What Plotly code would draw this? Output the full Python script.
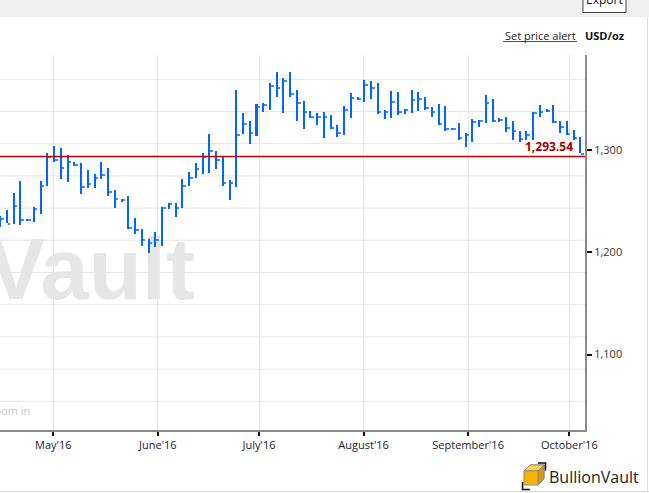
import plotly.graph_objects as go
import pandas as pd

# ---------------- data ----------------
start_date = "2016-04-15 06:00"   # first 2-day bar
bar_step = "2D"

high = [1235.8, 1241.3, 1258.0, 1269.7, 1232.8, 1244.3, 1269.7, 1297.1, 1303.9, 1302.0,
        1295.1, 1288.3, 1287.3, 1280.7, 1276.8, 1288.3, 1282.4, 1260.9, 1252.4, 1255.0,
        1233.5, 1222.8, 1213.0, 1219.8, 1244.6, 1248.2, 1248.2, 1271.7, 1278.5, 1287.3,
        1297.1, 1315.6, 1299.0, 1293.5, 1270.7, 1358.7, 1336.2, 1328.3, 1345.0, 1345.9,
        1365.5, 1376.2, 1370.4, 1376.2, 1358.7, 1347.9, 1338.1, 1336.2, 1337.1, 1334.2,
        1324.4, 1343.0, 1355.7, 1351.8, 1368.4, 1367.4, 1365.5, 1338.8, 1357.7, 1356.7,
        1340.1, 1358.7, 1356.7, 1351.8, 1342.0, 1345.0, 1343.0, 1321.8, 1326.4, 1316.6,
        1330.0, 1329.3, 1354.1, 1349.9, 1331.0, 1332.6, 1328.3, 1318.9, 1318.9, 1337.4,
        1344.3, 1339.8, 1344.0, 1328.3, 1328.3, 1319.6, 1313.0]

low = [1225.0, 1228.3, 1228.0, 1227.0, 1230.9, 1229.9, 1237.7, 1265.1, 1288.6, 1271.9,
       1269.0, 1284.7, 1257.3, 1263.1, 1263.1, 1271.9, 1255.3, 1243.6, 1249.5, 1223.1,
       1217.6, 1206.5, 1199.6, 1205.5, 1206.5, 1242.6, 1234.8, 1243.6, 1264.8, 1272.6,
       1276.5, 1277.8, 1281.7, 1265.1, 1251.1, 1264.1, 1315.9, 1306.2, 1314.0, 1337.4,
       1339.1, 1352.1, 1336.5, 1352.1, 1328.3, 1320.8, 1331.6, 1324.7, 1312.0, 1320.8,
       1313.0, 1315.0, 1331.6, 1349.2, 1347.2, 1350.1, 1335.5, 1330.6, 1331.6, 1334.5,
       1335.5, 1336.5, 1338.4, 1339.4, 1332.6, 1324.7, 1318.9, 1319.8, 1310.1, 1303.2,
       1308.1, 1322.8, 1326.1, 1327.7, 1327.7, 1317.3, 1309.8, 1307.5, 1309.8, 1309.8,
       1332.6, 1337.4, 1326.1, 1316.9, 1314.4, 1309.8, 1296.6]

close = [1233.2, 1228.3, 1245.3, 1231.3, 1231.9, 1242.3, 1265.5, 1292.9, 1290.2, 1282.4,
         1288.0, 1286.0, 1264.5, 1266.8, 1273.3, 1275.3, 1259.6, 1252.1, 1251.1, 1224.4,
         1221.8, 1212.0, 1209.1, 1212.7, 1244.0, 1247.5, 1243.3, 1265.5, 1273.3, 1282.1,
         1293.6, 1299.0, 1290.2, 1268.4, 1267.7, 1315.3, 1325.4, 1316.6, 1342.7, 1344.0,
         1363.2, 1361.3, 1367.2, 1355.4, 1346.6, 1337.8, 1332.9, 1332.9, 1332.9, 1322.2,
         1316.6, 1339.8, 1351.5, 1349.6, 1364.2, 1361.3, 1336.9, 1336.9, 1347.6, 1336.9,
         1339.8, 1348.6, 1350.5, 1341.7, 1337.8, 1326.1, 1321.2, 1320.8, 1312.4, 1314.7,
         1327.4, 1328.1, 1345.7, 1328.3, 1329.6, 1321.8, 1318.6, 1310.5, 1315.0, 1335.9,
         1337.8, 1338.4, 1327.4, 1322.8, 1316.3, 1312.4, 1296.6]

current_price = 1293.54
current_price_label = "1,293.54"

month_ticks = ["2016-05-01", "2016-06-01", "2016-07-01", "2016-08-01", "2016-09-01", "2016-10-01"]
month_labels = ["May'16", "June'16", "July'16", "August'16", "September'16", "October'16"]
y_ticks = [1100, 1200, 1300]
y_tick_labels = ["1,100", "1,200", "1,300"]

# ---------------- styling / layout constants ----------------
W, H = 649, 493
PL, PR, PT, PB = 0, 585, 55, 430           # plot area in pixels
X_RANGE = ["2016-04-15 04:42", "2016-10-05 15:43"]
Y_RANGE = [1026.3, 1392.87]
GRID_LEVELS = [1054.4, 1085.8, 1117.3, 1148.8, 1180.3, 1211.8, 1243.2, 1274.7, 1306.2, 1337.7, 1369.1]
FONT = "Open Sans, Noto Sans, sans-serif"
BLUE = "#0066ff"
TICK_BLUE = "#3d8bff"
DAY_MS = 86400000


def px(x):
    return (x - PL) / (PR - PL)


def py(y):
    return (PB - y) / (PB - PT)


def poly(points):
    return "M " + " L ".join(f"{px(a):.5f},{py(b):.5f}" for a, b in points) + " Z"


def polyline(points):
    return "M " + " L ".join(f"{px(a):.5f},{py(b):.5f}" for a, b in points)


dates = pd.date_range(start_date, periods=len(high), freq=bar_step)
span = [h - l for h, l in zip(high, low)]

fig = go.Figure()

# high-low bars
fig.add_trace(go.Bar(
    x=dates, y=span, base=low,
    width=0.6 * DAY_MS, offset=-0.3 * DAY_MS,
    marker=dict(color=BLUE, line=dict(width=0)),
    hoverinfo="skip", showlegend=False,
))
# close ticks (to the right of each bar)
fig.add_trace(go.Bar(
    x=dates, y=[1.4] * len(close), base=[c - 0.7 for c in close],
    width=0.75 * DAY_MS, offset=0.3 * DAY_MS,
    marker=dict(color=TICK_BLUE, line=dict(width=0)),
    hoverinfo="skip", showlegend=False,
))

shapes = []
# horizontal grid
for g in GRID_LEVELS:
    shapes.append(dict(type="line", xref="paper", yref="y", x0=0, x1=1, y0=g, y1=g,
                       line=dict(color="#e6e6e6", width=1), layer="below"))
# watermark (below traces)
shapes.append(dict(type="rect", xref="paper", yref="paper",
                   x0=px(-400), x1=px(198), y0=py(308), y1=py(213),
                   line=dict(width=0), fillcolor="rgba(0,0,0,0)", layer="below",
                   label=dict(text="<b>BullionVault</b>", textposition="middle right", padding=0,
                              font=dict(family="Liberation Sans, Arial, sans-serif",
                                        size=87, color="#e6e6e6"))))
# current price line
shapes.append(dict(type="line", xref="paper", yref="y", x0=0, x1=1,
                   y0=current_price, y1=current_price,
                   line=dict(color="#c00000", width=1.5)))
# top toolbar band
shapes.append(dict(type="rect", xref="paper", yref="paper",
                   x0=px(0), x1=px(W), y0=py(17), y1=py(0),
                   line=dict(width=0), fillcolor="#f0f0f0", layer="below"))
# export button
shapes.append(dict(type="rect", xref="paper", yref="paper",
                   x0=px(583), x1=px(626), y0=py(12.5), y1=py(-8),
                   line=dict(color="#444444", width=1), fillcolor="#ffffff"))
# underline for "Set price alert"
shapes.append(dict(type="line", xref="paper", yref="paper",
                   x0=px(503), x1=px(577), y0=py(41.5), y1=py(41.5),
                   line=dict(color="#555555", width=1)))
# frame lines (bottom / right)
shapes.append(dict(type="line", xref="paper", yref="paper",
                   x0=px(0), x1=px(W), y0=py(491.5), y1=py(491.5),
                   line=dict(color="#dddddd", width=1)))
shapes.append(dict(type="line", xref="paper", yref="paper",
                   x0=px(647.5), x1=px(647.5), y0=py(491.5), y1=py(17),
                   line=dict(color="#dddddd", width=1)))
# BullionVault cube logo
shapes.append(dict(type="path", xref="paper", yref="paper",
                   path=poly([(530, 465), (544, 465), (544, 479), (530, 479)]),
                   line=dict(color="#8a8a8a", width=1), fillcolor="rgba(0,0,0,0)"))
shapes.append(dict(type="path", xref="paper", yref="paper",
                   path=poly([(524, 471), (530, 465), (544, 465), (538, 471)]),
                   line=dict(color="#8a8a8a", width=1), fillcolor="#ffd04a"))
shapes.append(dict(type="path", xref="paper", yref="paper",
                   path=poly([(538, 471), (544, 465), (544, 479), (538, 485)]),
                   line=dict(color="#8a8a8a", width=1), fillcolor="#d99a00"))
shapes.append(dict(type="path", xref="paper", yref="paper",
                   path=poly([(524, 471), (538, 471), (538, 485), (524, 485)]),
                   line=dict(color="#8a8a8a", width=1), fillcolor="#f6b300"))
shapes.append(dict(type="path", xref="paper", yref="paper",
                   path=polyline([(522.5, 482), (522.5, 489.5), (530, 489.5)]),
                   line=dict(color="#111111", width=1.5)))
shapes.append(dict(type="path", xref="paper", yref="paper",
                   path=polyline([(538, 463), (545.5, 463), (545.5, 470.5)]),
                   line=dict(color="#111111", width=1.5)))

annotations = [
    dict(text="<b>" + current_price_label + "</b>", xref="paper", yref="y",
         x=px(575), y=current_price, xanchor="right", yanchor="bottom", showarrow=False,
         font=dict(family=FONT, size=12, color="#a80000")),
    dict(text="Set price alert", xref="paper", yref="paper", x=px(578), y=py(35),
         xanchor="right", yanchor="middle", showarrow=False,
         font=dict(family=FONT, size=11, color="#222222")),
    dict(text="<b>USD/oz</b>", xref="paper", yref="paper", x=px(583), y=py(35),
         xanchor="left", yanchor="middle", showarrow=False,
         font=dict(family=FONT, size=11, color="#111111")),
    dict(text="Export", xref="paper", yref="paper", x=px(604.5), y=py(0),
         xanchor="center", yanchor="middle", showarrow=False,
         font=dict(family=FONT, size=12, color="#111111")),
    dict(text="BullionVault", xref="paper", yref="paper", x=px(547), y=py(477),
         xanchor="left", yanchor="middle", showarrow=False,
         font=dict(family=FONT, size=16, color="#222222")),
    dict(text="Click and drag to zoom in", xref="paper", yref="paper", x=px(32), y=py(410),
         xanchor="right", yanchor="middle", showarrow=False,
         font=dict(family=FONT, size=11, color="#c4c4c4")),
]

fig.update_layout(
    template="none",
    width=W, height=H, autosize=False,
    margin=dict(l=PL, r=W - PR, t=PT, b=H - PB, pad=0, autoexpand=False),
    paper_bgcolor="white", plot_bgcolor="white",
    barmode="overlay", bargap=0,
    showlegend=False, hovermode=False,
    shapes=shapes, annotations=annotations,
    font=dict(family=FONT, size=11, color="#222222"),
    xaxis=dict(
        type="date", range=X_RANGE,
        tickmode="array", tickvals=month_ticks, ticktext=month_labels,
        showgrid=True, gridcolor="#e6e6e6", gridwidth=1,
        showline=True, linecolor="#8a8a8a", linewidth=2,
        ticks="outside", ticklen=4, tickwidth=2, tickcolor="#111111",
        tickfont=dict(family=FONT, size=11, color="#1a1a33"),
        zeroline=False, automargin=False, fixedrange=True,
    ),
    yaxis=dict(
        side="right", range=Y_RANGE,
        tickmode="array", tickvals=y_ticks, ticktext=y_tick_labels,
        showgrid=False,
        showline=True, linecolor="#8a8a8a", linewidth=2,
        ticks="outside", ticklen=5, tickwidth=2, tickcolor="#111111",
        tickfont=dict(family=FONT, size=11, color="#333333"),
        zeroline=False, automargin=False, fixedrange=True,
    ),
)

fig.write_html(
    "out.html",
    config={"displayModeBar": False},
    post_script="document.body.style.margin='0px';document.body.style.overflow='hidden';",
)
